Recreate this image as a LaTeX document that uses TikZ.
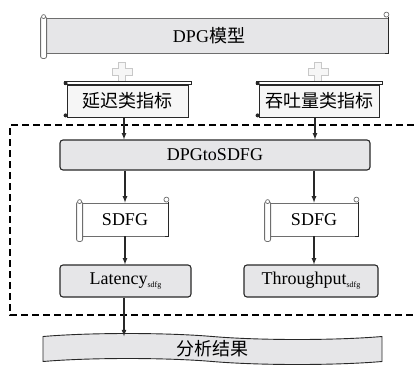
\documentclass[tikz,border=0pt]{standalone}
\usepackage{fontspec}
\setmainfont{Liberation Serif}
\newfontfamily\cjk{Noto Sans CJK SC}
\usetikzlibrary{arrows,shapes,calc,positioning}
\definecolor{rellenoGris}{RGB}{230,230,232}
\definecolor{rellenoClaro}{RGB}{246,246,246}
\definecolor{bordeOscuro}{RGB}{40,40,40}
\definecolor{bordeGris}{RGB}{110,110,110}
\definecolor{cruzGris}{RGB}{200,200,200}
\tikzstyle{caja}   =[rectangle, draw=bordeOscuro, fill=rellenoGris,
                     rounded corners=3pt, line width=1.1pt, inner sep=0pt,
                     font=\fontsize{18}{20}\selectfont]
\tikzstyle{rollo}  =[rectangle, draw=bordeGris, fill=rellenoGris,
                     line width=0.8pt, inner sep=0pt,
                     font=\fontsize{18}{20}\selectfont]
\tikzstyle{cinta}  =[tape, draw=bordeOscuro, fill=rellenoGris,
                     line width=0.9pt, inner sep=0pt,
                     tape bend top=out and in, tape bend bottom=out and in,
                     tape bend height=6pt,
                     font=\fontsize{18}{20}\selectfont]
\tikzstyle{flecha} =[-latex, line width=1.2pt, bordeOscuro]
\tikzstyle{cruz}   =[draw=cruzGris, fill=rellenoClaro, line width=0.9pt]
\tikzstyle{marco}  =[dashed, dash pattern=on 7pt off 4pt, line width=1.4pt]
\newcommand{\subidx}[1]{\raisebox{-3pt}{\fontsize{8}{8}\selectfont #1}}
% rollo con cilindro a la izquierda
\newcommand{\rolloIzq}[1]{
    \draw[bordeGris, fill=white, rounded corners=2pt, line width=0.8pt]
        ([shift={(-5,-1)}]#1.north west) rectangle ([shift={(1,5)}]#1.south west);
    \draw[bordeGris, fill=white, line width=0.7pt] ([shift={(-2,-1)}]#1.north west) circle (2pt);
    \draw[bordeGris, fill=white, line width=0.7pt] ([shift={(-2,-3)}]#1.north east) circle (2.5pt);
    \draw[bordeOscuro, line width=1pt] ([shift={(0,-1)}]#1.north east) -- (#1.south east) -- ([shift={(-3,0)}]#1.south east);
}
% rollo con cilindro arriba
\newcommand{\rolloSup}[1]{
    \draw[bordeOscuro, fill=white, line width=0.7pt]
        ([shift={(-2,-3)}]#1.north west) rectangle ([shift={(3,0)}]#1.north east);
    \fill[bordeOscuro] ([shift={(-1,-1.5)}]#1.north west) circle (2pt);
    \fill[bordeOscuro] ([shift={(-1,-2)}]#1.south west) circle (2pt);
}

\begin{document}
\begin{tikzpicture}[x=1pt,y=-1pt]
    \useasboundingbox (0,0) rectangle (414,367);

    % entrada
    \draw (217,35.5) node (dpg) [rollo,minimum width=342,minimum height=35] {\hspace*{-16pt}DPG{\cjk 模型}};
    \rolloIzq{dpg}

    \foreach \px in {122,318}
        \draw[cruz] (\px,72) ++(-3.5,-10) -- ++(7,0) -- ++(0,6.5) -- ++(6.5,0) -- ++(0,7)
            -- ++(-6.5,0) -- ++(0,6.5) -- ++(-7,0) -- ++(0,-6.5) -- ++(-6.5,0)
            -- ++(0,-7) -- ++(6.5,0) -- cycle;

    \draw (127.5,101) node (yanchi) [rollo,fill=rellenoClaro,draw=bordeOscuro,minimum width=121,minimum height=32] {\cjk 延迟类指标};
    \draw (319,101) node (tuntu) [rollo,fill=rellenoClaro,draw=bordeOscuro,minimum width=120,minimum height=32] {\cjk 吞吐量类指标};
    \rolloSup{yanchi}
    \rolloSup{tuntu}

    % analisis
    \draw[marco] (414,125) -- (10,125) -- (10,315) -- (414,315);

    \draw (215,155) node (conv) [caja,minimum width=310,minimum height=30] {DPGtoSDFG};

    \draw (125,219.5) node (sdfgL) [rollo,fill=white,minimum width=86,minimum height=33] {SDFG};
    \draw (314,219.5) node (sdfgR) [rollo,fill=white,minimum width=88,minimum height=33] {SDFG};
    \rolloIzq{sdfgL}
    \rolloIzq{sdfgR}

    \draw (125.5,281) node (lat) [caja,minimum width=131,minimum height=32] {Latency\subidx{sdfg}};
    \draw (311,281) node (thr) [caja,minimum width=134,minimum height=32] {Throughput\subidx{sdfg}};

    % salida
    \draw (212.5,349) node (res) [cinta,minimum width=339,minimum height=31] {\cjk 分析结果};

    \draw[flecha] ([xshift=-3.5pt]yanchi.south) -- ([xshift=-3.5pt]yanchi.south |- conv.north);
    \draw[flecha] ([xshift=-4pt]tuntu.south) -- ([xshift=-4pt]tuntu.south |- conv.north);
    \foreach \i/\j in {sdfgL/lat,sdfgR/thr} {
        \draw[flecha] (\i.north |- conv.south) -- (\i.north);
        \draw[flecha] (\i.south) -- (\i.south |- \j.north);
    }
    \draw[flecha] ([xshift=-1.5pt]lat.south) -- ([xshift=-1.5pt]lat.south |- res.north);

\end{tikzpicture}
\end{document}
